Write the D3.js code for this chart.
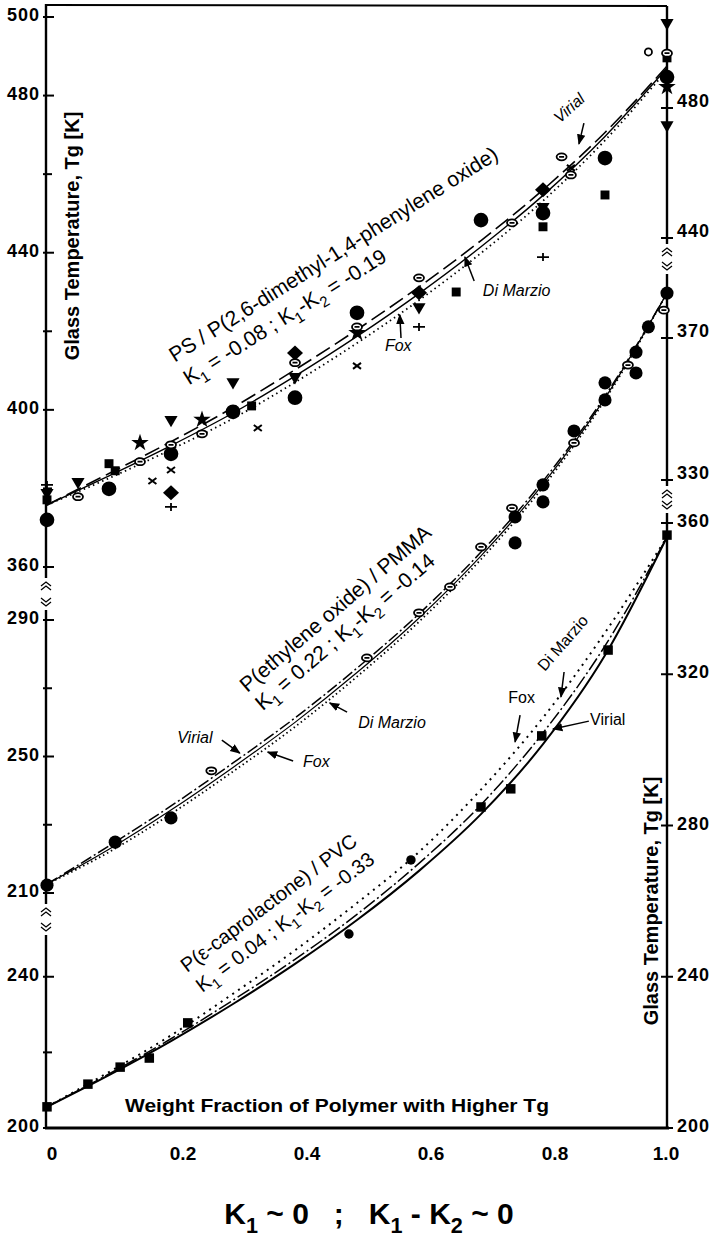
<!DOCTYPE html>
<html>
<head>
<meta charset="utf-8">
<script src="https://cdn.jsdelivr.net/npm/d3@7"></script>
<style>
  body { margin: 0; background: #fff; }
  svg { display: block; font-family: "Liberation Sans", Arial, sans-serif; }
</style>
</head>
<body>
<svg id="chart" width="723" height="1253"></svg>
<script>
// weight fraction grid used for the three model curves
var wGrid = [0, 0.1, 0.2, 0.3, 0.4, 0.5, 0.6, 0.7, 0.8, 0.9, 1.0];

// PS / PPO  (top panel)
var topVirial   = [375.8, 383.8, 391.9, 400.6, 410.2, 420.4, 431.3, 443.1, 456.0, 470.6, 487.5];
var topDiMarzio = [375.8, 383.2, 390.9, 399.2, 408.6, 418.7, 429.6, 441.5, 454.6, 469.6, 487.0];
var topFox      = [375.8, 382.6, 389.9, 397.8, 407.0, 417.0, 427.9, 439.9, 453.2, 468.6, 486.5];
var topCircle   = [[0, 372.0], [0.1, 379.9], [0.2, 388.8], [0.3, 399.5], [0.4, 403.1], [0.5, 424.7], [0.7, 448.3], [0.8, 450.1], [0.9, 464.1], [1.0, 484.7]];
var topEllipse  = [[0.05, 377.9], [0.15, 386.8], [0.2, 391.1], [0.25, 393.9], [0.4, 412.0], [0.5, 421.1], [0.6, 433.6], [0.75, 447.6], [0.83, 464.4], [0.845, 459.8], [1.0, 490.8]];
var topOpen     = [[0.97, 491.1]];
var topTriangle = [[0, 378.9], [0.05, 381.7], [0.2, 397.5], [0.3, 407.1], [0.4, 408.4], [0.6, 426.2], [0.8, 451.7], [1.0, 472.5], [1.0, 498.5]];
var topStar     = [[0.15, 391.6], [0.25, 397.5], [0.5, 419.6], [1.0, 482.2]];
var topSquare   = [[0, 377.1], [0.1, 386.3], [0.11, 384.5], [0.33, 401.0], [0.66, 430.0], [0.8, 446.6], [0.9, 454.7], [1.0, 489.6]];
var topDiamond  = [[0.2, 378.9], [0.4, 414.5], [0.6, 429.8], [0.8, 456.0]];
var topCross    = [[0.17, 381.9], [0.2, 384.7], [0.34, 395.4], [0.5, 411.2], [0.845, 461.6]];
var topPlus     = [[0, 380.9], [0.2, 375.3], [0.6, 421.1], [0.8, 438.9]];

// PEO / PMMA  (middle panel)
var midVirial   = [212.6, 223.8, 235.5, 248.1, 261.3, 275.9, 291.8, 309.9, 330.7, 355.6, 385.8];
var midDiMarzio = [212.6, 222.8, 234.3, 246.8, 260.0, 274.6, 290.6, 308.8, 329.8, 355.0, 385.8];
var midFox      = [212.6, 222.0, 233.2, 245.6, 258.7, 273.4, 289.5, 307.8, 329.0, 354.5, 385.8];
var midCircle   = [[0, 212.3], [0.11, 224.9], [0.2, 232.0], [0.755, 320.2], [0.755, 312.6], [0.8, 329.6], [0.8, 324.6], [0.85, 345.4], [0.9, 359.5], [0.9, 354.5], [0.95, 368.5], [0.95, 362.4], [0.97, 375.9], [1.0, 385.8]];
var midEllipse  = [[0.265, 245.8], [0.516, 278.9], [0.6, 292.1], [0.65, 299.7], [0.7, 311.4], [0.75, 322.8], [0.85, 341.9], [0.937, 364.7], [0.995, 380.8]];

// PCL / PVC  (bottom panel)
var botVirial   = [205.6, 214.0, 223.0, 232.8, 243.4, 255.0, 268.0, 283.0, 301.5, 325.0, 356.3];
var botDiMarzio = [205.6, 214.3, 223.6, 233.8, 244.6, 256.5, 270.0, 285.5, 304.5, 327.5, 356.3];
var botFox      = [205.6, 214.8, 224.5, 235.5, 247.0, 259.5, 273.0, 289.5, 308.5, 331.0, 356.3];
var botSquare   = [[0, 205.6], [0.066, 211.6], [0.118, 216.1], [0.165, 218.5], [0.227, 227.8], [0.70, 284.9], [0.748, 289.7], [0.798, 303.7], [0.905, 326.4], [1.0, 356.8]];
var botSmall    = [[0.487, 251.3], [0.587, 270.9]];

// axis ticks
var xTicks = [0, 0.2, 0.4, 0.6, 0.8, 1.0];
var xLabels = ['0', '0.2', '0.4', '0.6', '0.8', '1.0'];
var leftTopTicks = [360, 380, 400, 420, 440, 460, 480, 500];
var leftTopLabels = [360, 400, 440, 480, 500];
var leftMidTicks = [210, 230, 250, 270, 290];
var leftMidLabels = [210, 250, 290];
var leftBotTicks = [200, 220, 240];
var leftBotLabels = [200, 240];
var rightTopTicks = [440, 480];
var rightMidTicks = [330, 370];
var rightBotTicks = [200, 240, 280, 320, 360];

var svg = d3.select('#chart');

var x = d3.scaleLinear().domain([0, 1]).range([47, 667]);
var yTop = d3.scaleLinear().domain([360, 500]).range([567, 17]);
var yMid = d3.scaleLinear().domain([210, 290]).range([893, 620]);
var yBot = d3.scaleLinear().domain([200, 360]).range([1128, 523]);
var yTopR = d3.scaleLinear().domain([440, 480]).range([238, 108]);
var yMidR = d3.scaleLinear().domain([330, 370]).range([480, 338]);

var axL = 46, axR = 667;

// ---- frame and broken axes
var frame = svg.append('g').attr('stroke', '#000').attr('fill', 'none');
frame.append('line').attr('x1', axL - 1).attr('x2', axR).attr('y1', 5).attr('y2', 6).attr('stroke-width', 2);
frame.append('line').attr('x1', axL - 1).attr('x2', axR + 2).attr('y1', 1128).attr('y2', 1128).attr('stroke-width', 3);

[[axL, 4, 578], [axL, 610, 904], [axL, 935, 1128],
 [axR, 6, 244], [axR, 274, 486], [axR, 513, 1128]].forEach(function (s) {
  frame.append('line').attr('x1', s[0]).attr('x2', s[0]).attr('y1', s[1]).attr('y2', s[2]).attr('stroke-width', 2.4);
});

function axisBreak(cx, y0, y1) {
  var g = frame.append('g').attr('stroke-width', 1.3);
  [y0 + 4, y0 + 8].forEach(function (yy) {
    g.append('path').attr('d', 'M' + (cx - 5) + ',' + (yy + 4) + 'L' + cx + ',' + yy + 'L' + (cx + 5) + ',' + (yy + 4));
  });
  [y1 - 8, y1 - 4].forEach(function (yy) {
    g.append('path').attr('d', 'M' + (cx - 5) + ',' + (yy - 4) + 'L' + cx + ',' + yy + 'L' + (cx + 5) + ',' + (yy - 4));
  });
}
axisBreak(axL, 578, 610);
axisBreak(axL, 904, 935);
axisBreak(axR, 244, 274);
axisBreak(axR, 486, 513);

function leftTicks(ticks, labels, sc) {
  ticks.forEach(function (t) {
    var big = labels.indexOf(t) >= 0;
    frame.append('line').attr('x1', axL - 3).attr('x2', axL + (big ? 8 : 6))
      .attr('y1', sc(t)).attr('y2', sc(t)).attr('stroke-width', 2);
  });
  svg.append('g').selectAll('text').data(labels).join('text')
    .attr('x', 40).attr('y', function (d) { return sc(d) - 2; })
    .attr('text-anchor', 'end').attr('dominant-baseline', 'central')
    .attr('font-size', 18).attr('font-weight', 'bold').attr('letter-spacing', 1)
    .text(function (d) { return d; });
}
leftTicks(leftTopTicks, leftTopLabels, yTop);
leftTicks(leftMidTicks, leftMidLabels, yMid);
leftTicks(leftBotTicks, leftBotLabels, yBot);

function rightTicks(ticks, sc, lift) {
  ticks.forEach(function (t) {
    frame.append('line').attr('x1', axR - 6).attr('x2', axR + 6)
      .attr('y1', sc(t)).attr('y2', sc(t)).attr('stroke-width', 2);
  });
  svg.append('g').selectAll('text').data(ticks).join('text')
    .attr('x', 677).attr('y', function (d) { return sc(d) - lift; })
    .attr('dominant-baseline', 'central')
    .attr('font-size', 18).attr('font-weight', 'bold').attr('letter-spacing', 1)
    .text(function (d) { return d; });
}
rightTicks(rightTopTicks, yTopR, 7);
rightTicks(rightMidTicks, yMidR, 7);
rightTicks(rightBotTicks, yBot, 2);

svg.append('g').selectAll('text').data(xTicks).join('text')
  .attr('x', function (d) { return x(d) + (d === 0 ? 5 : d === 1 ? -1 : 12); })
  .attr('y', 1160)
  .attr('text-anchor', 'middle').attr('font-size', 19).attr('font-weight', 'bold')
  .text(function (d, i) { return xLabels[i]; });

// axis titles
svg.append('text').attr('transform', 'translate(72,236) rotate(-90)')
  .attr('text-anchor', 'middle').attr('dominant-baseline', 'central')
  .attr('font-size', 20).attr('font-weight', 'bold').text('Glass Temperature, Tg [K]');
svg.append('text').attr('transform', 'translate(651,901) rotate(-90)')
  .attr('text-anchor', 'middle').attr('dominant-baseline', 'central')
  .attr('font-size', 20).attr('font-weight', 'bold').text('Glass Temperature, Tg [K]');
svg.append('text').attr('x', 125).attr('y', 1112)
  .attr('font-size', 18.5).attr('font-weight', 'bold')
  .attr('textLength', 424).attr('lengthAdjust', 'spacingAndGlyphs')
  .text('Weight Fraction of Polymer with Higher Tg');

// ---- model curves
function drawCurve(vals, sc, dash, width) {
  var line = d3.line()
    .x(function (d, i) { return x(wGrid[i]); })
    .y(function (d) { return sc(d); })
    .curve(d3.curveMonotoneX);
  svg.append('path').datum(vals).attr('d', line)
    .attr('fill', 'none').attr('stroke', '#000').attr('stroke-width', width)
    .attr('stroke-dasharray', dash);
}
drawCurve(topVirial, yTop, '16,6', 1.6);
drawCurve(topDiMarzio, yTop, null, 1.4);
drawCurve(topFox, yTop, '1.5,3.5', 1.8);
drawCurve(midVirial, yMid, '12,3,2,3', 1.5);
drawCurve(midDiMarzio, yMid, null, 1.2);
drawCurve(midFox, yMid, '1.5,3', 1.8);
drawCurve(botVirial, yBot, null, 2);
drawCurve(botDiMarzio, yBot, '14,3,2,3', 1.5);
drawCurve(botFox, yBot, '2,5', 2);

// ---- data markers
var shapes = {
  circle: { d: d3.symbol(d3.symbolCircle, 170)(), fill: '#000' },
  circleMid: { d: d3.symbol(d3.symbolCircle, 135)(), fill: '#000' },
  square: { d: d3.symbol(d3.symbolSquare, 80)(), fill: '#000' },
  squareBot: { d: d3.symbol(d3.symbolSquare, 90)(), fill: '#000' },
  small: { d: d3.symbol(d3.symbolCircle, 70)(), fill: '#000' },
  triangle: { d: d3.symbol(d3.symbolTriangle, 75)(), fill: '#000', rot: 180 },
  star: { d: d3.symbol(d3.symbolStar, 95)(), fill: '#000' },
  diamond: { d: 'M0,-7.5L8,0L0,7.5L-8,0Z', fill: '#000' },
  cross: { d: 'M-4,-3L4,3M-4,3L4,-3', fill: 'none', sw: 2 },
  plus: { d: 'M-6,0H6M0,-4V4', fill: 'none', sw: 1.8 },
  ellipse: { d: 'M-5,0a5,3.5 0 1,0 10,0a5,3.5 0 1,0 -10,0M-2.5,0H2.5', fill: '#fff', sw: 1.8 },
  open: { d: d3.symbol(d3.symbolCircle, 40)(), fill: '#fff', sw: 1.8 }
};

function plot(data, sc, s) {
  svg.append('g').selectAll('path').data(data).join('path')
    .attr('transform', function (d) {
      return 'translate(' + x(d[0]) + ',' + sc(d[1]) + ')' + (s.rot ? ' rotate(' + s.rot + ')' : '');
    })
    .attr('d', s.d).attr('fill', s.fill)
    .attr('stroke', s.sw ? '#000' : 'none').attr('stroke-width', s.sw || 0);
}
plot(topCircle, yTop, shapes.circle);
plot(topSquare, yTop, shapes.square);
plot(topTriangle, yTop, shapes.triangle);
plot(topStar, yTop, shapes.star);
plot(topDiamond, yTop, shapes.diamond);
plot(topCross, yTop, shapes.cross);
plot(topPlus, yTop, shapes.plus);
plot(topEllipse, yTop, shapes.ellipse);
plot(topOpen, yTop, shapes.open);
plot(midCircle, yMid, shapes.circleMid);
plot(midEllipse, yMid, shapes.ellipse);
plot(botSquare, yBot, shapes.squareBot);
plot(botSmall, yBot, shapes.small);

// ---- annotations
svg.append('defs').append('marker').attr('id', 'arr')
  .attr('viewBox', '0 0 10 10').attr('refX', 9).attr('refY', 5)
  .attr('markerWidth', 7).attr('markerHeight', 7).attr('orient', 'auto')
  .append('path').attr('d', 'M0,1L10,5L0,9Z').attr('fill', '#000');

function richText(px, py, angle, lines, fs, gap, weight) {
  var t = svg.append('text').attr('transform', 'translate(' + px + ',' + py + ') rotate(' + angle + ')')
    .attr('font-size', fs).attr('font-weight', weight || 'normal');
  var off = 0;
  lines.forEach(function (segs, i) {
    segs.forEach(function (s, j) {
      var sub = s[1] === 'sub';
      var target = sub ? fs * 0.3 : 0;
      var ts = t.append('tspan').text(s[0]);
      var dy = target - off;
      if (j === 0 && i > 0) { dy += gap; ts.attr('x', 0); }
      if (dy) ts.attr('dy', dy);
      if (sub) ts.attr('font-size', fs * 0.72);
      off = target;
    });
  });
  return t;
}

function kLine(k1, dk) {
  return [['K'], ['1', 'sub'], [' = ' + k1 + ' ; K'], ['1', 'sub'], ['-K'], ['2', 'sub'], [' = ' + dk]];
}

richText(x(0.206), yTop(412.0), -32.2, [[['PS / P(2,6-dimethyl-1,4-phenylene oxide)']], kLine('-0.08', '-0.19')], 21, 27);
richText(x(0.323), yMid(268.6), -40.5, [[['P(ethylene oxide) / PMMA']], kLine('0.22', '-0.14')], 21, 24);
richText(x(0.226), yBot(241.0), -37, [[['P(\u03b5-caprolactone) / PVC']], kLine('0.04', '-0.33')], 20, 25);

function note(px, py, txt, italic, angle) {
  svg.append('text').attr('transform', 'translate(' + px + ',' + py + ') rotate(' + (angle || 0) + ')')
    .attr('font-size', 16).attr('font-style', italic ? 'italic' : 'normal').text(txt);
}
function arrow(sc, a, b) {
  svg.append('line').attr('x1', x(a[0])).attr('y1', sc(a[1])).attr('x2', x(b[0])).attr('y2', sc(b[1]))
    .attr('stroke', '#000').attr('stroke-width', 1.5).attr('marker-end', 'url(#arr)');
}

note(x(0.827), yTop(472.8), 'Virial', true, -42);
arrow(yTop, [0.866, 473.0], [0.858, 467.7]);
note(x(0.703), yTop(429.0), 'Di Marzio', true);
arrow(yTop, [0.689, 432.8], [0.674, 438.9]);
note(x(0.545), yTop(415.0), 'Fox', true);
arrow(yTop, [0.571, 418.3], [0.569, 424.2]);

note(x(0.21), yMid(254.0), 'Virial', true);
arrow(yMid, [0.282, 254.8], [0.311, 251.0]);
note(x(0.413), yMid(246.9), 'Fox', true);
arrow(yMid, [0.397, 248.7], [0.356, 251.3]);
note(x(0.502), yMid(258.4), 'Di Marzio', true);
arrow(yMid, [0.484, 263.0], [0.456, 265.7]);

note(x(0.803), yBot(320.6), 'Di Marzio', false, -49);
arrow(yBot, [0.834, 320.6], [0.829, 314.0]);
note(x(0.744), yBot(312.4), 'Fox', false);
arrow(yBot, [0.763, 309.2], [0.755, 302.1]);
note(x(0.876), yBot(306.6), 'Virial', false);
arrow(yBot, [0.874, 307.6], [0.816, 305.5]);

// bottom caption
var cap = richText(369, 1224, 0, [[['K'], ['1', 'sub'], [' ~ 0   ;   K'], ['1', 'sub'], [' - K'], ['2', 'sub'], [' ~ 0']]], 30, 0, 'bold');
cap.attr('text-anchor', 'middle').style('white-space', 'pre');
</script>
</body>
</html>
